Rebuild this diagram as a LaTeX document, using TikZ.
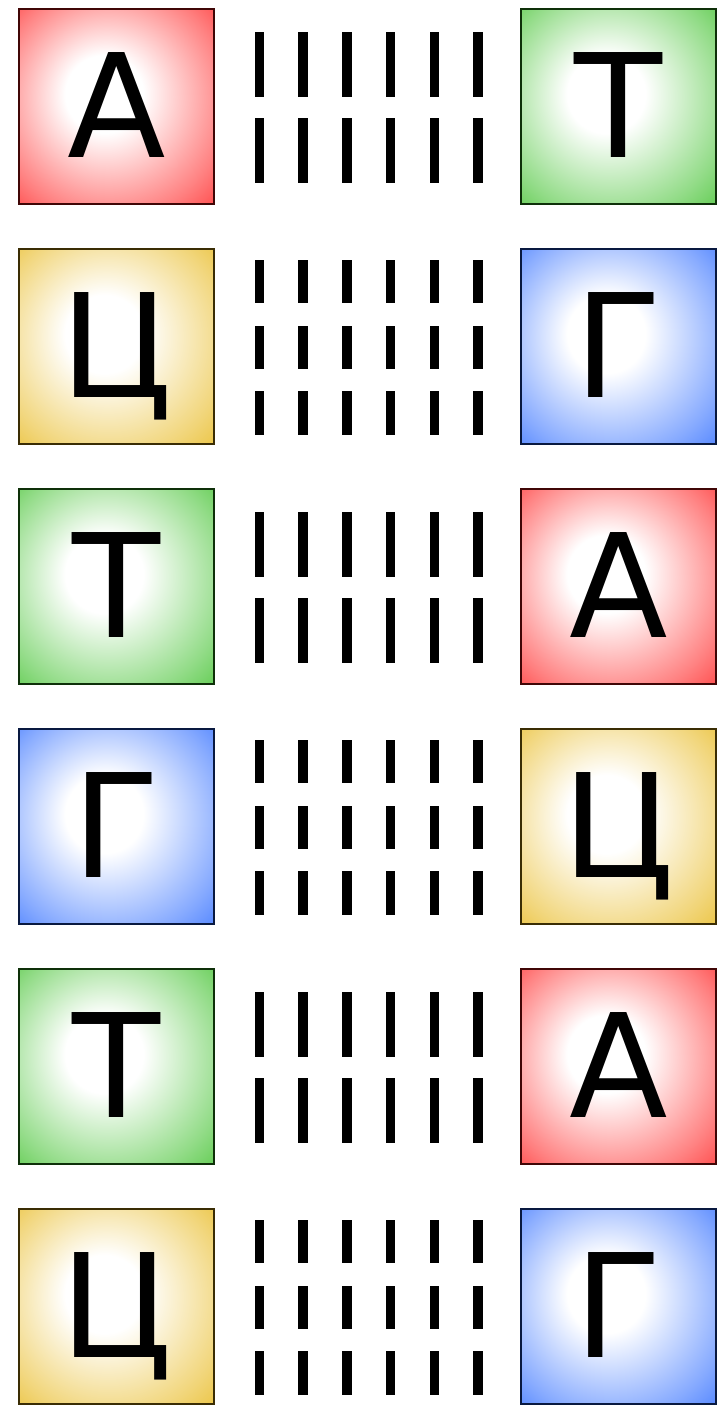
\documentclass[tikz,border=0pt]{standalone}
\usepackage{fontspec}
\setmainfont{DejaVu Sans}
\usetikzlibrary{calc}
\definecolor{cA}{RGB}{255,25,25}
\definecolor{cT}{RGB}{55,190,35}
\definecolor{cG}{RGB}{35,100,255}
\definecolor{cC}{RGB}{230,180,15}
\pgfdeclareradialshading{shA}{\pgfpoint{-4bp}{4bp}}{color(0bp)=(white); color(10bp)=(white); color(30bp)=(cA!55); color(39bp)=(cA!82); color(47bp)=(cA)}
\pgfdeclareradialshading{shT}{\pgfpoint{-4bp}{4bp}}{color(0bp)=(white); color(10bp)=(white); color(30bp)=(cT!55); color(39bp)=(cT!82); color(47bp)=(cT)}
\pgfdeclareradialshading{shG}{\pgfpoint{-4bp}{4bp}}{color(0bp)=(white); color(10bp)=(white); color(30bp)=(cG!55); color(39bp)=(cG!82); color(47bp)=(cG)}
\pgfdeclareradialshading{shC}{\pgfpoint{-4bp}{4bp}}{color(0bp)=(white); color(10bp)=(white); color(30bp)=(cC!55); color(39bp)=(cC!82); color(47bp)=(cC)}
\tikzset{
  basebox/.style={draw=c#1!25!black, line width=2.5pt, shading=sh#1,
    minimum width=195pt, minimum height=195pt, inner sep=0pt, outer sep=0pt, anchor=north west},
  letter/.style={font=\fontsize{144}{144}\selectfont, inner sep=0pt, anchor=base},
  hbond/.style={fill=black}
}
\begin{document}
\begin{tikzpicture}[x=1pt,y=-1pt]
\useasboundingbox (0,0) rectangle (717,1406);
\foreach \l/\r/\ll/\rr/\n [count=\i from 0] in {A/T/А/Т/2, C/G/Ц/Г/3, T/A/Т/А/2, G/C/Г/Ц/3, T/A/Т/А/2, C/G/Ц/Г/3} {
  \pgfmathsetmacro\tp{9+240*\i}
  \node[basebox=\l] (L\i) at (19,\tp) {};
  \node[basebox=\r] (R\i) at (521,\tp) {};
  \node[letter] (LL\i) at ($(L\i.north)+(0,148)$) {\ll};
  \node[letter] (RL\i) at ($(R\i.north)+(0,148)$) {\rr};
  \ifnum\n=2 \def\spans{23/88,109/174}\else \def\spans{11/54,77/120,142/186}\fi
  \foreach \a/\b in \spans {
    \foreach \j in {0,...,5} {
      \fill[hbond] ({259.5+43.7*\j-4.75}, {\tp+\a}) rectangle ++(9.5, {\b-\a});
    }
  }
}
\end{tikzpicture}
\end{document}
